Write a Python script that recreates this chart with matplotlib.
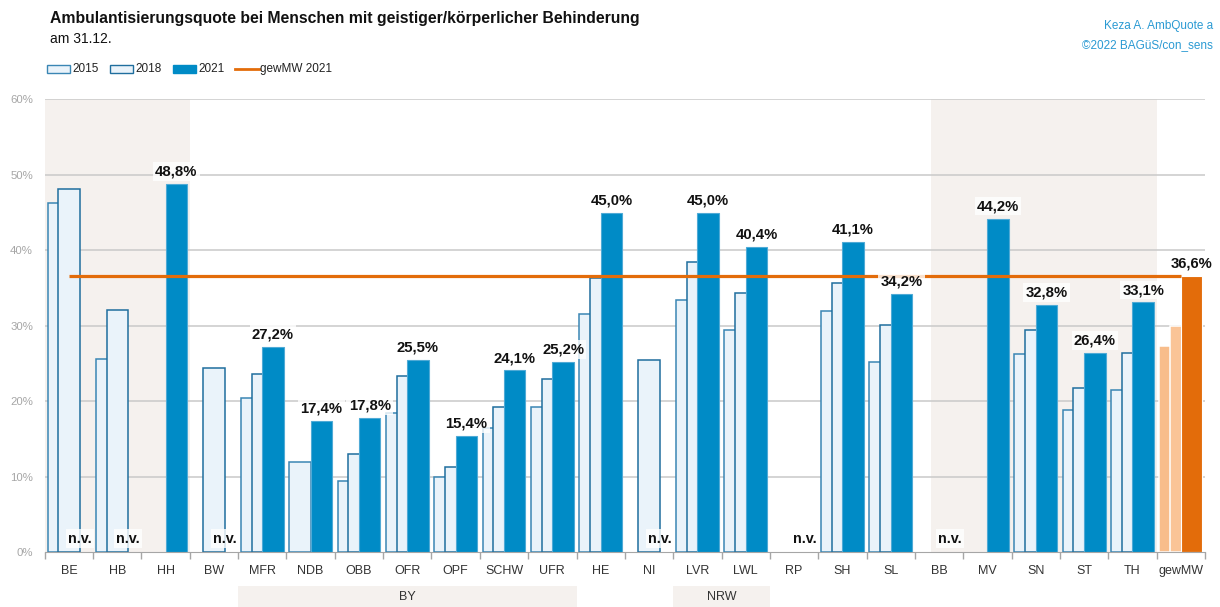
import numpy as np
import matplotlib
matplotlib.use("Agg")
import matplotlib.pyplot as plt
from matplotlib.patches import Rectangle
from matplotlib.lines import Line2D
from matplotlib import font_manager as fm

names = {f.name for f in fm.fontManager.ttflist}
narrow = "Liberation Sans Narrow" if "Liberation Sans Narrow" in names else "Liberation Sans"
plt.rcParams["font.family"] = [narrow, "DejaVu Sans"]

nan = np.nan
cats = ["BE", "HB", "HH", "BW", "MFR", "NDB", "OBB", "OFR", "OPF", "SCHW", "UFR", "HE",
        "NI", "LVR", "LWL", "RP", "SH", "SL", "BB", "MV", "SN", "ST", "TH", "gewMW"]
v2015 = [46.2, 25.6, nan, nan, 20.5, 12.0, 9.5, 18.4, 10.0, 16.4, 19.3, 31.5,
         nan, 33.4, 29.4, nan, 32.0, 25.2, nan, nan, 26.2, 18.8, 21.5, 27.3]
v2018 = [48.1, 32.1, nan, 24.4, 23.6, nan, 13.0, 23.4, 11.3, 19.2, 22.9, 36.3,
         25.5, 38.5, 34.4, nan, 35.7, 30.1, nan, nan, 29.4, 21.7, 26.4, 30.0]
v2021 = [nan, nan, 48.8, nan, 27.2, 17.4, 17.8, 25.5, 15.4, 24.1, 25.2, 45.0,
         nan, 45.0, 40.4, nan, 41.1, 34.2, nan, 44.2, 32.8, 26.4, 33.1, 36.6]
gewmw_2021 = 36.6
years = ["2015", "2018", "2021"]
groups = [("BY", "MFR", "UFR"), ("NRW", "LVR", "LWL")]

narrow_ok = narrow == "Liberation Sans Narrow"
k = 1.0 if narrow_ok else 0.86  # shrink text when no condensed face

W, H = 1220, 607
fig = plt.figure(figsize=(W / 100, H / 100), dpi=100)


def fx(px):
    return px / W


def fy(py):
    return 1 - py / H


ax = fig.add_axes([fx(44.7), fy(552.3), (1205 - 44.7) / W, (552.3 - 99.3) / H])
x = np.arange(len(cats))
ax.set_xlim(-0.5, len(cats) - 0.5)
ax.set_ylim(0, 60)

BG = "#F5F1EE"
ax.axvspan(-0.5, 2.5, color=BG, zorder=0, lw=0)
ax.axvspan(17.83, 22.5, color=BG, zorder=0, lw=0)

for v in range(10, 61, 10):
    ax.axhline(v, color="#C9C9C9", lw=1.1, zorder=1)

off, w = 0.221, 0.442
n = len(cats)
fc15 = ["#EAF3FA"] * (n - 1) + ["#F8BD8B"]
ec15 = ["#3A86B4"] * (n - 1) + ["white"]
fc18 = ["#EAF3FA"] * (n - 1) + ["#FAC497"]
ec18 = ["#1F6E9E"] * (n - 1) + ["white"]
fc21 = ["#008BC6"] * (n - 1) + ["#E36C0A"]
ec21 = ["#4FAAD6"] * (n - 1) + ["white"]

ax.bar(x - off, v2015, w, color=fc15, edgecolor=ec15, lw=1.1, zorder=2)
ax.bar(x, v2018, w, color=fc18, edgecolor=ec18, lw=1.1, zorder=3)
ax.bar(x + off, v2021, w, color=fc21, edgecolor=ec21, lw=0.8, zorder=4)

ax.plot([x[0], x[-1]], [gewmw_2021, gewmw_2021], color="#E36C0A", lw=2.3, zorder=5,
        solid_capstyle="butt")

box = dict(boxstyle="square,pad=0.15", fc="white", ec="none", alpha=0.8)
for i, v in enumerate(v2021):
    if np.isnan(v):
        ax.annotate("n.v.", (x[i] + off, 0), xytext=(0, 7), textcoords="offset points",
                    ha="center", va="baseline", fontsize=12 * k, fontweight="bold",
                    color="#111111", bbox=box, zorder=6)
    else:
        ax.annotate(f"{v:.1f}%".replace(".", ","), (x[i] + off, v), xytext=(0, 6),
                    textcoords="offset points", ha="center", va="baseline",
                    fontsize=12.5 * k, fontweight="bold", color="#111111", bbox=box, zorder=6)

ax.set_xticks(x)
ax.set_xticklabels(cats)
ax.set_xticks(np.arange(-0.5, n, 1), minor=True)
ax.tick_params(axis="x", which="major", length=0, pad=9, labelsize=10.5 * k, labelcolor="#333333")
ax.tick_params(axis="x", which="minor", length=5, color="#A6A6A6", width=1)
ax.set_yticks(range(0, 61, 10))
ax.set_yticklabels([f"{v}%" for v in range(0, 61, 10)])
ax.tick_params(axis="y", length=0, pad=8.5, labelsize=9.5 * k, labelcolor="#A6A6A6")
for s in ["top", "right", "left"]:
    ax.spines[s].set_visible(False)
ax.spines["bottom"].set_color("#A6A6A6")
ax.spines["bottom"].set_zorder(7)

# group labels
for name, a, b in groups:
    i0, i1 = cats.index(a), cats.index(b)
    x0 = ax.transData.transform((i0 - 0.5, 0))[0]
    x1 = ax.transData.transform((i1 + 0.5, 0))[0]
    top = 586
    fig.add_artist(Rectangle((fx(x0), 0), fx(x1 - x0), fy(top), transform=fig.transFigure,
                             fc=BG, ec="none"))
    fig.text(fx((x0 + x1) / 2), fy(597), name, ha="center", va="center", fontsize=10.5 * k,
             color="#333333")

# titles
fig.text(fx(50), fy(22.7), "Ambulantisierungsquote bei Menschen mit geistiger/körperlicher Behinderung",
         fontsize=13.5 * (k - 0.02 if not narrow_ok else 1), fontweight="bold", color="#111111",
         va="baseline")
fig.text(fx(50), fy(43), "am 31.12.", fontsize=10, color="#111111", va="baseline")
fig.text(fx(1213), fy(29), "Keza A. AmbQuote a", fontsize=9.8 * k, color="#2A9AD3",
         ha="right", va="baseline")
fig.text(fx(1213), fy(48), "©2022 BAGüS/con_sens", fontsize=9.8 * k, color="#2A9AD3",
         ha="right", va="baseline")

# legend (manual)
leg_y = 69
items = [(47, "patch", "#EAF3FA", "#3A86B4", years[0]),
         (110, "patch", "#EAF3FA", "#1F6E9E", years[1]),
         (173, "patch", "#008BC6", "#008BC6", years[2]),
         (235, "line", "#E36C0A", None, "gewMW 2021")]
for px, kind, fc, ec, lab in items:
    if kind == "patch":
        fig.add_artist(Rectangle((fx(px), fy(leg_y + 3.5)), fx(23), 7 / H,
                                 transform=fig.transFigure, fc=fc, ec=ec, lw=1))
    else:
        fig.add_artist(Line2D([fx(px), fx(px + 24)], [fy(leg_y), fy(leg_y)],
                              transform=fig.transFigure, color=fc, lw=2))
    fig.text(fx(px + 25), fy(leg_y), lab, fontsize=9.8 * k, color="#222222", va="center")

fig.savefig("out.png", dpi=100)
